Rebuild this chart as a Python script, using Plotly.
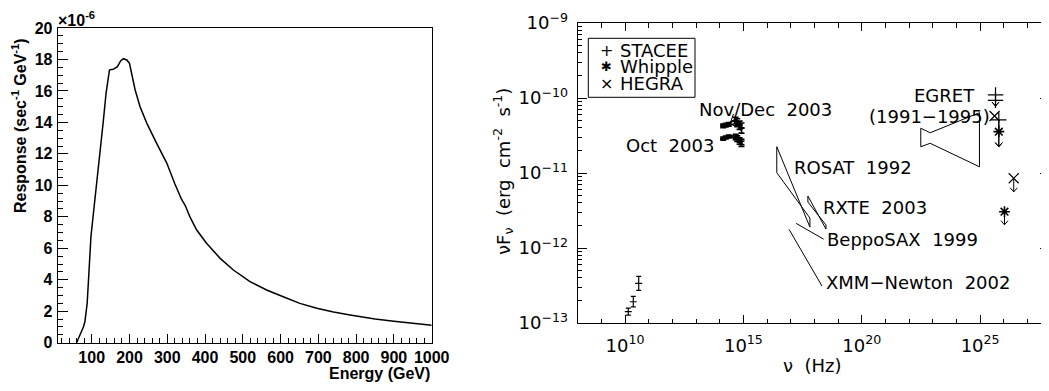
import numpy as np
import plotly.graph_objects as go

# page body has an 8px margin: the figure is sized/offset so the picture fills the window
OFF = 8
W, H = 1049 - OFF, 391 - OFF

# ---------------- Left panel: response curve (units of 1e-6 /s/GeV) ----------------
energy_gev = [60, 71, 78, 82, 88, 93, 98, 104, 113, 122, 131, 138, 147, 152, 157, 168, 177,
              184, 193, 200, 206, 215, 228, 246, 272, 299, 320, 338, 347, 360, 378, 404, 440,
              475, 519, 563, 607, 651, 696, 740, 784, 850, 900, 950, 1000]
response_1e6 = [0, 0.6, 1.0, 1.33, 2.5, 4.6, 6.74, 8.1, 10.0, 12.0, 14.15, 15.85, 17.33, 17.36,
                17.37, 17.54, 17.92, 18.05, 17.97, 17.76, 17.12, 16.06, 15.0, 13.94, 12.67, 11.4,
                10.1, 9.1, 8.75, 8.0, 7.16, 6.32, 5.36, 4.62, 3.88, 3.35, 2.92, 2.5, 2.19, 1.95,
                1.76, 1.5, 1.36, 1.23, 1.11]
energy_ticks = [100, 200, 300, 400, 500, 600, 700, 800, 900, 1000]
response_ticks = [0, 2, 4, 6, 8, 10, 12, 14, 16, 18, 20]

# ---------------- Right panel: spectral energy distribution ----------------
radio_nu = [1.37e10, 2.23e10, 3.78e10]
radio_flux = [1.42e-13, 1.92e-13, 3.38e-13]
radio_err_plus = [0.16e-13, 0.34e-13, 0.81e-13]
radio_err_minus = [0.15e-13, 0.28e-13, 0.65e-13]

optical_nu = [1.4e14, 1.8e14, 2.4e14, 4.7e14, 5.5e14, 6.9e14, 8.3e14]
optical_err_frac = [0.02, 0.02, 0.02, 0.06, 0.06, 0.07, 0.08]
novdec_flux_a = [4.4e-11, 4.5e-11, 4.6e-11, 5.2e-11, 5.0e-11, 4.6e-11, 4.3e-11]
novdec_flux_b = [4.1e-11, 4.2e-11, 4.3e-11, 4.6e-11, 4.4e-11, 4.1e-11, 3.7e-11]
oct_flux_a = [2.95e-11, 3.05e-11, 3.15e-11, 3.1e-11, 2.95e-11, 2.75e-11, 2.6e-11]
oct_flux_b = [2.8e-11, 2.9e-11, 3.0e-11, 2.95e-11, 2.8e-11, 2.6e-11, 2.45e-11]

rosat_nu = [2.57e16, 2.57e16, 6.46e17, 6.46e17, 2.57e16]
rosat_flux = [2.24e-11, 1.01e-11, 2.51e-12, 1.9e-12, 2.24e-11]
rxte_nu = [5.3e17, 5.3e17, 3.08e18, 3.08e18, 5.3e17]
rxte_flux = [4.93e-12, 4.10e-12, 2.03e-12, 1.79e-12, 4.93e-12]
sax_nu = [1.69e17, 2.45e18]
sax_flux = [2.13e-12, 1.31e-12]
xmm_nu = [8.5e16, 2.09e18]
xmm_flux = [1.77e-12, 3.11e-13]
egret_nu = [3.11e22, 7.8e22, 9.38e24, 9.38e24, 7.8e22, 3.11e22, 3.11e22]
egret_flux = [3.95e-11, 3.44e-11, 6.37e-11, 1.21e-11, 2.49e-11, 2.24e-11, 3.95e-11]

stacee_nu = [4.47e25, 4.47e25, 6.17e25]
stacee_flux = [1.10e-10, 9.3e-11, 5.1e-11]
stacee_tip = [7.8e-11, 7.8e-11, 2.24e-11]
whipple_nu = [6.17e25, 1.07e26]
whipple_flux = [3.56e-11, 3.05e-12]
whipple_tip = [2.24e-11, 2.04e-12]
hegra_nu = [4.07e25, 2.63e26]
hegra_flux = [5.75e-11, 8.5e-12]
hegra_tip = [5.75e-11, 5.6e-12]

nu_label_ticks = [1e10, 1e15, 1e20, 1e25]
flux_ticks = [1e-13, 1e-12, 1e-11, 1e-10, 1e-9]

ROOT_FONT = "Liberation Sans, Arial"
IDL_FONT = "DejaVu Sans"
BLACK = "black"

fig = go.Figure()

# ---- left curve
fig.add_trace(go.Scatter(x=energy_gev, y=response_1e6, mode="lines",
                         line=dict(color=BLACK, width=1.5), xaxis="x", yaxis="y",
                         showlegend=False, hoverinfo="skip"))

# ---- right panel traces
def add2(**kw):
    kw.setdefault("showlegend", False)
    kw.setdefault("hoverinfo", "skip")
    fig.add_trace(go.Scatter(xaxis="x2", yaxis="y2", **kw))

add2(x=radio_nu, y=radio_flux, mode="markers",
     marker=dict(symbol="line-ew", size=5, line=dict(color=BLACK, width=1.2)),
     error_y=dict(type="data", symmetric=False, array=radio_err_plus,
                  arrayminus=radio_err_minus, color=BLACK, thickness=1.2, width=2.5))

for fl in (novdec_flux_a, novdec_flux_b, oct_flux_a, oct_flux_b):
    err = [f * e for f, e in zip(fl, optical_err_frac)]
    add2(x=optical_nu, y=fl, mode="lines", line=dict(color=BLACK, width=1.6),
         error_y=dict(type="data", array=err, color=BLACK, thickness=1.6, width=3))

for xs, ys in ((rosat_nu, rosat_flux), (rxte_nu, rxte_flux), (sax_nu, sax_flux),
               (xmm_nu, xmm_flux), (egret_nu, egret_flux)):
    add2(x=xs, y=ys, mode="lines", line=dict(color=BLACK, width=1))

# upper-limit stems and open arrowheads
ul_nu = stacee_nu + whipple_nu + hegra_nu
ul_top = stacee_flux + whipple_flux + hegra_flux
ul_tip = stacee_tip + whipple_tip + hegra_tip
sx, sy, cx, cy = [], [], [], []
for n, t, b in zip(ul_nu, ul_top, ul_tip):
    if b >= t:
        continue
    sx += [n, n, None]
    sy += [t, b, None]
    cx += [n * 10 ** -0.15, n, n * 10 ** 0.15, None]
    cy += [b * 10 ** 0.055, b, b * 10 ** 0.055, None]
add2(x=sx, y=sy, mode="lines", line=dict(color=BLACK, width=1))
add2(x=cx, y=cy, mode="lines", line=dict(color=BLACK, width=1))

add2(x=stacee_nu, y=stacee_flux, mode="markers", name="STACEE",
     marker=dict(symbol="cross-thin", size=11, line=dict(color=BLACK, width=1.2)))
add2(x=whipple_nu, y=whipple_flux, mode="markers", name="Whipple",
     marker=dict(symbol="asterisk", size=9, line=dict(color=BLACK, width=1.6)))
add2(x=hegra_nu, y=hegra_flux, mode="markers", name="HEGRA",
     marker=dict(symbol="x-thin", size=10, line=dict(color=BLACK, width=1.2)))

# pointer lines for optical labels
add2(x=[2.93e14, 3.82e14], y=[4.83e-11, 6.12e-11], mode="lines", line=dict(color=BLACK, width=1))
add2(x=[1.10e14, 2.66e14], y=[2.81e-11, 3.05e-11], mode="lines", line=dict(color=BLACK, width=1))

# ---------------- axes ----------------
def px_x(p):
    return (p - OFF) / W

def px_y(p):
    return 1 - (p - OFF) / H

L_X0, L_X1, L_Y0, L_Y1 = 57.7, 431.7, 28, 342.7
R_X0, R_X1, R_Y0, R_Y1 = 577.7, 1049, 23, 323

left_font = dict(family=ROOT_FONT, size=16, color=BLACK, weight="bold")
idl_font = dict(family=IDL_FONT, size=18, color=BLACK)

common = dict(showgrid=False, zeroline=False, automargin=False, showline=True,
              linecolor=BLACK, linewidth=1, tickcolor=BLACK, tickwidth=1, ticks="inside")

fig.update_layout(
    width=W, height=H, margin=dict(l=0, r=0, t=0, b=0, pad=0, autoexpand=False),
    paper_bgcolor="white", plot_bgcolor="white", showlegend=False,
    font=dict(family=IDL_FONT, color=BLACK),
    xaxis=dict(domain=[px_x(L_X0), px_x(L_X1)], range=[10, 1000], anchor="y",
               tickmode="array", tickvals=energy_ticks, ticklen=9, mirror=True,
               tickfont=left_font, ticklabelstandoff=0,
               minor=dict(dtick=20, tick0=0, ticks="inside", ticklen=4.5, tickcolor=BLACK),
               **common),
    yaxis=dict(domain=[px_y(L_Y1), px_y(L_Y0)], range=[0, 20], anchor="x",
               tickmode="array", tickvals=response_ticks, ticklen=10, mirror=True,
               tickfont=left_font, ticklabelstandoff=1,
               minor=dict(dtick=0.5, tick0=0, ticks="inside", ticklen=5.5, tickcolor=BLACK),
               **common),
    xaxis2=dict(type="log", domain=[px_x(R_X0), min(1.0, px_x(R_X1))], range=[8, 27.91],
                anchor="y2", tickmode="array", tickvals=nu_label_ticks,
                ticktext=["10<sup>10</sup>", "10<sup>15</sup>", "10<sup>20</sup>", "10<sup>25</sup>"],
                ticklen=8, mirror="ticks", tickfont=idl_font, ticklabelstandoff=6,
                minor=dict(tickmode="array", tickvals=[10.0 ** k for k in range(8, 28)],
                           ticks="inside", ticklen=4.5, tickcolor=BLACK),
                **common),
    yaxis2=dict(type="log", domain=[px_y(R_Y1), px_y(R_Y0)], range=[-13, -9], anchor="x2",
                tickmode="array", tickvals=flux_ticks,
                ticktext=["10<sup>\u221213</sup>", "10<sup>\u221212</sup>", "10<sup>\u221211</sup>",
                          "10<sup>\u221210</sup>", "10<sup>\u22129</sup>"],
                ticklen=9, mirror="ticks", tickfont=idl_font, ticklabelstandoff=5,
                minor=dict(tickmode="array",
                           tickvals=[m * 10.0 ** k for k in range(-13, -9) for m in range(2, 10)],
                           ticks="inside", ticklen=4.5, tickcolor=BLACK),
                **common),
)

ann = []
def paper_text(text, x, y, xanchor="center", yanchor="middle", font=None, angle=0):
    ann.append(dict(text=text, xref="paper", yref="paper", x=px_x(x), y=px_y(y),
                    xanchor=xanchor, yanchor=yanchor, showarrow=False,
                    font=font or idl_font, textangle=angle))

# left panel texts
paper_text("Response (sec<sup>-1</sup> GeV<sup>-1</sup>)", 19, 126, font=left_font, angle=-90)
paper_text("Energy (GeV)", 432, 373, xanchor="right", font=left_font)
paper_text("\u00d710<sup>-6</sup>", 56, 19, xanchor="left",
           font=dict(family=ROOT_FONT, size=16, color=BLACK, weight="bold"))

# right panel axis titles
paper_text("\u03bdF<sub>\u03bd</sub>\u00a0 (erg\u00a0 cm<sup>-2</sup>\u00a0 s<sup>-1</sup>)", 503, 172, angle=-90)
paper_text("\u03bd\u00a0 (Hz)", 812, 365)

# data labels (in log10 axis units)
def data_text(text, lx, ly, xanchor="left"):
    ann.append(dict(text=text, xref="x2", yref="y2", x=lx, y=ly, xanchor=xanchor,
                    yanchor="middle", showarrow=False, font=idl_font))

SP = "\u00a0 "
data_text("Nov/Dec" + SP + "2003", 13.05, -10.153)
data_text("Oct" + SP + "2003", 13.86, -10.627, xanchor="right")
data_text("EGRET", 22.12, -9.973)
data_text("(1991\u22121995)", 20.23, -10.249)
data_text("ROSAT" + SP + "1992", 17.07, -10.929)
data_text("RXTE" + SP + "2003", 18.29, -11.457)
data_text("BeppoSAX" + SP + "1999", 18.43, -11.884)
data_text("XMM\u2212Newton" + SP + "2002", 18.39, -12.463)

# legend (box, keys, names)
legend_names = ["STACEE", "Whipple", "HEGRA"]
legend_keys = ["+", "\u2731", "\u00d7"]
for i, (k, nme) in enumerate(zip(legend_keys, legend_names)):
    yy = 50 + i * 16.7
    paper_text(k, 606.7, yy, font=dict(family=IDL_FONT, size=16 if i != 1 else 13, color=BLACK))
    paper_text(nme, 618, yy, xanchor="left")

fig.update_layout(annotations=ann,
                  shapes=[dict(type="rect", xref="paper", yref="paper",
                               x0=px_x(588.3), x1=px_x(695), y0=px_y(97.3), y1=px_y(38.3),
                               line=dict(color=BLACK, width=1))])

fig.write_html("out.html")
